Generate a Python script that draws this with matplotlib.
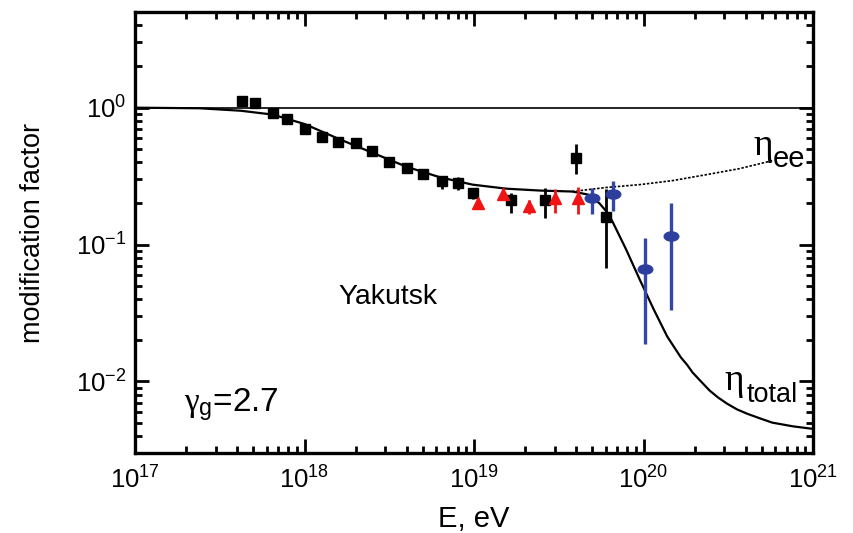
import matplotlib
matplotlib.use("Agg")
import matplotlib.pyplot as plt
import numpy as np
from matplotlib.path import Path
from matplotlib.transforms import Affine2D
from matplotlib.ticker import LogLocator, NullFormatter, FixedLocator, FixedFormatter

plt.rcParams['font.family'] = ['Liberation Sans', 'DejaVu Sans']
plt.rcParams['mathtext.fontset'] = 'custom'
plt.rcParams['mathtext.rm'] = 'Liberation Sans'
plt.rcParams['mathtext.it'] = 'Liberation Serif'
plt.rcParams['mathtext.bf'] = 'Liberation Sans:bold'

# --- modification factor, total (pair production + pion production)
total_E = [1.0e17, 2.4e17, 4.2e17, 6.5e17, 1.0e18, 1.6e18, 2.5e18, 4.0e18,
           6.3e18, 9.8e18, 1.55e19, 2.45e19, 3.8e19, 4.7e19, 5.5e19, 6.2e19,
           6.6e19, 7.9e19, 9.5e19, 1.15e20, 1.38e20, 1.66e20, 1.81e20,
           1.95e20, 2.15e20, 2.45e20, 2.75e20, 3.1e20, 3.56e20, 4.1e20,
           4.87e20, 5.75e20, 7.6e20, 1.0e21]
total_eta = [1.0, 0.99, 0.95, 0.89, 0.76, 0.59, 0.47, 0.37,
             0.31, 0.274, 0.256, 0.248, 0.244, 0.232, 0.20, 0.168,
             0.145, 0.092, 0.0555, 0.0335, 0.0213, 0.015, 0.0132,
             0.0116, 0.0102, 0.0086, 0.00764, 0.0069, 0.00625, 0.0058,
             0.00537, 0.0050, 0.0047, 0.0045]

# --- modification factor, pair production only
ee_E = [3.8e19, 6.0e19, 9.5e19, 1.48e20, 2.35e20, 3.7e20, 5.75e20]
ee_eta = [0.244, 0.261, 0.274, 0.293, 0.324, 0.359, 0.41]

# --- Yakutsk data (black squares)
yak_E = [4.3e17, 5.1e17, 6.5e17, 7.9e17, 1.0e18, 1.26e18, 1.58e18, 2.0e18,
         2.5e18, 3.16e18, 4.0e18, 5.0e18, 6.5e18, 8.1e18, 9.8e18, 1.66e19,
         2.63e19, 4.0e19, 6.0e19]
yak_eta = [1.12, 1.09, 0.92, 0.83, 0.70, 0.61, 0.56, 0.555,
           0.485, 0.40, 0.36, 0.33, 0.29, 0.28, 0.24, 0.21,
           0.21, 0.43, 0.16]
yak_lo = [1.12, 1.09, 0.92, 0.83, 0.70, 0.61, 0.56, 0.555,
          0.485, 0.40, 0.36, 0.31, 0.256, 0.25, 0.215, 0.171,
          0.157, 0.33, 0.067]
yak_hi = [1.12, 1.09, 0.92, 0.83, 0.70, 0.61, 0.56, 0.555,
          0.485, 0.40, 0.36, 0.35, 0.319, 0.31, 0.25, 0.24,
          0.26, 0.546, 0.256]

# --- red triangles
tri_E = [1.05e19, 1.48e19, 2.1e19, 3.0e19, 4.1e19]
tri_eta = [0.20, 0.236, 0.19, 0.22, 0.22]
tri_lo = [0.185, 0.21, 0.168, 0.171, 0.168]
tri_hi = [0.21, 0.26, 0.21, 0.256, 0.265]

# --- blue points
blu_E = [5.0e19, 6.6e19, 1.02e20, 1.45e20]
blu_eta = [0.217, 0.236, 0.066, 0.116]
blu_lo = [0.168, 0.177, 0.0189, 0.0335]
blu_hi = [0.26, 0.293, 0.112, 0.20]

x_ticks = [1e17, 1e18, 1e19, 1e20, 1e21]
x_ticklabels = [r'$\mathrm{10^{17}}$', r'$\mathrm{10^{18}}$', r'$\mathrm{10^{19}}$',
                r'$\mathrm{10^{20}}$', r'$\mathrm{10^{21}}$']
y_ticks = [1e-2, 1e-1, 1e0]
y_ticklabels = [r'$\mathrm{10^{-2}}$', r'$\mathrm{10^{-1}}$', r'$\mathrm{10^{0}}$']


def yerr(v, lo, hi):
    v, lo, hi = map(np.asarray, (v, lo, hi))
    return np.vstack([v - lo, hi - v])


fig = plt.figure(figsize=(8.54, 5.33), dpi=100)
ax = fig.add_axes([135 / 854, 80 / 533, 678 / 854, 441 / 533])
ax.set_xscale('log')
ax.set_yscale('log')
ax.set_xlim(1e17, 1e21)
ax.set_ylim(3e-3, 5)

ax.axhline(1.0, color='black', lw=1.2, zorder=2)
ax.plot(total_E, total_eta, color='black', lw=1.6, zorder=3)
ax.plot(ee_E, ee_eta, color='black', lw=1.2, ls=(0, (1.5, 1.0)), zorder=3)

ax.errorbar(yak_E, yak_eta, yerr=yerr(yak_eta, yak_lo, yak_hi), fmt='s',
            color='black', ms=7.5, elinewidth=2.0, capsize=0, zorder=5)
ax.errorbar(tri_E, tri_eta, yerr=yerr(tri_eta, tri_lo, tri_hi), fmt='^',
            color='#f01414', ms=9, elinewidth=2.0, capsize=0, zorder=6)
ellipse = Path.unit_circle().transformed(Affine2D().scale(1.6, 1.0))
ax.errorbar(blu_E, blu_eta, yerr=yerr(blu_eta, blu_lo, blu_hi), fmt='none',
            ecolor='#3447a6', elinewidth=2.4, capsize=0, zorder=6)
ax.plot(blu_E, blu_eta, ls='none', marker=ellipse, ms=10.5, color='#2c3e9e', zorder=7)

# axes styling
for sp in ax.spines.values():
    sp.set_linewidth(2.4)
ax.xaxis.set_major_locator(FixedLocator(x_ticks))
ax.xaxis.set_major_formatter(FixedFormatter(x_ticklabels))
ax.yaxis.set_major_locator(FixedLocator(y_ticks))
ax.yaxis.set_major_formatter(FixedFormatter(y_ticklabels))
ax.xaxis.set_minor_locator(LogLocator(base=10, subs=np.arange(2, 10)))
ax.yaxis.set_minor_locator(LogLocator(base=10, subs=np.arange(2, 10)))
ax.xaxis.set_minor_formatter(NullFormatter())
ax.yaxis.set_minor_formatter(NullFormatter())
ax.tick_params(which='both', direction='in', top=True, right=True, width=2.0,
               labelsize=18.5, colors='black')
ax.tick_params(which='major', length=10)
ax.tick_params(which='minor', length=5)
ax.tick_params(axis='x', which='major', pad=10)
ax.tick_params(axis='y', which='major', pad=6)

ax.set_xlabel('E, eV', fontsize=21, labelpad=8)
ax.set_ylabel('modification factor', fontsize=19.5, labelpad=22)

ax.text(0.373, 0.354, 'Yakutsk', transform=ax.transAxes, fontsize=20.5,
        ha='center', va='center')
ax.text(0.072, 0.109, r'$\gamma_{\mathrm{g}}$=2.7', transform=ax.transAxes,
        fontsize=24, ha='left', va='center')

# curve labels: Greek symbol plus a full-size subscript
ax.text(0.911, 0.6757, r'$\eta$', transform=ax.transAxes,
        fontsize=27, ha='left', va='baseline')
ax.text(0.941, 0.6485, 'ee', transform=ax.transAxes,
        fontsize=21, ha='left', va='baseline')
ax.text(0.869, 0.1429, r'$\eta$', transform=ax.transAxes,
        fontsize=27, ha='left', va='baseline')
ax.text(0.9027, 0.1156, 'total', transform=ax.transAxes,
        fontsize=19.5, ha='left', va='baseline')

fig.savefig('out.png', dpi=100)
